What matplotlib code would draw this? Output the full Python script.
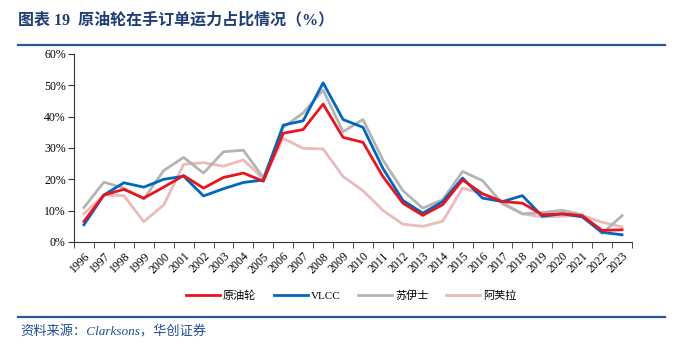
import matplotlib
matplotlib.use('Agg')
import matplotlib.pyplot as plt
import numpy as np

years = [str(y) for y in range(1996, 2024)]
crude = [6.6, 15.0, 16.8, 14.0, 17.5, 21.2, 17.2, 20.6, 22.0, 19.4, 34.7, 35.9, 44.0, 33.4, 31.8,
         20.9, 12.4, 8.5, 11.9, 19.8, 15.4, 12.9, 12.4, 8.7, 9.0, 8.4, 3.7, 3.9]
vlcc = [5.5, 15.0, 18.9, 17.5, 20.0, 21.0, 14.7, 17.0, 19.0, 19.8, 37.3, 38.7, 50.8, 39.1, 36.6,
        23.5, 13.3, 9.2, 12.9, 20.4, 14.0, 12.9, 14.8, 8.2, 9.0, 8.0, 3.1, 2.3]
suez = [11.0, 19.1, 17.2, 13.7, 22.8, 27.0, 22.0, 28.8, 29.3, 20.5, 36.6, 41.2, 48.5, 35.2, 39.1,
        26.2, 16.4, 10.8, 13.5, 22.5, 19.6, 12.2, 9.0, 9.4, 10.1, 8.7, 2.7, 8.4]
afra = [9.0, 15.0, 14.8, 6.5, 11.8, 24.8, 25.3, 24.2, 26.2, 20.2, 33.0, 29.9, 29.7, 20.9, 16.4,
        10.1, 5.7, 5.0, 6.6, 17.2, 15.4, 12.6, 9.0, 8.0, 8.2, 8.5, 6.3, 4.8]
names = ['原油轮', 'VLCC', '苏伊士', '阿芙拉']
colors = ['#E8141E', '#0066C0', '#B4B4B4', '#EBBABA']

serif = ['Liberation Serif', 'Noto Sans CJK SC']
plt.rcParams['font.family'] = serif

fig = plt.figure(figsize=(6.89, 3.5), dpi=100)
ax = fig.add_axes([74 / 689, 1 - 242 / 350, (632 - 74) / 689, (242 - 54) / 350])

x = np.arange(len(years))
series = [crude, vlcc, suez, afra]
# red drawn last so it sits on top
for i in [3, 2, 1, 0]:
    ax.plot(x, series[i], color=colors[i], lw=2.0, label=names[i], zorder=5 - i)

ax.set_xlim(-0.5, len(years) - 0.5)
ax.set_ylim(0, 60)
ax.set_yticks(np.arange(0, 61, 10))
ax.set_yticklabels([f'{v}%' for v in range(0, 61, 10)], fontsize=8.5, family=serif)
ax.set_xticks(x)
ax.set_xticklabels(years, rotation=45, ha='right', rotation_mode='anchor', fontsize=8.5, family=serif)
ax.tick_params(axis='x', length=0, pad=6)
ax.set_xticks(np.arange(-0.5, len(years)), minor=True)
ax.tick_params(axis='x', which='minor', length=4, direction='out', color='#333333')
ax.tick_params(axis='y', length=4, direction='out', color='#333333', pad=2)
for s in ['top', 'right']:
    ax.spines[s].set_visible(False)
for s in ['left', 'bottom']:
    ax.spines[s].set_color('#333333')
    ax.spines[s].set_linewidth(0.8)

handles, labels = ax.get_legend_handles_labels()
order = [3, 2, 1, 0]
fig.legend([handles[k] for k in order], [labels[k] for k in order], loc='center',
           bbox_to_anchor=(0.51, 1 - 296 / 350), ncol=4, frameon=False,
           prop={'family': serif, 'size': 8}, handlelength=3.0, columnspacing=1.6, handletextpad=0.3)

# header / footer
fig.text(18 / 689, 1 - 20 / 350, '图表 19  原油轮在手订单运力占比情况（%）', family=serif,
         fontsize=11.5, fontweight='bold', color='#1F3E73', va='center')
fig.add_artist(plt.Line2D([18 / 689, 665 / 689], [1 - 45 / 350] * 2, color='#2E5597', lw=1.6))
fig.add_artist(plt.Line2D([18 / 689, 665 / 689], [1 - 317 / 350] * 2, color='#2E5597', lw=1.6))
fig.text(20 / 689, 1 - 332 / 350, '资料来源：Clarksons，华创证券', family=serif, fontsize=9.5,
         style='italic', color='#1F4E99', va='center')

fig.savefig('out.png', dpi=100)
